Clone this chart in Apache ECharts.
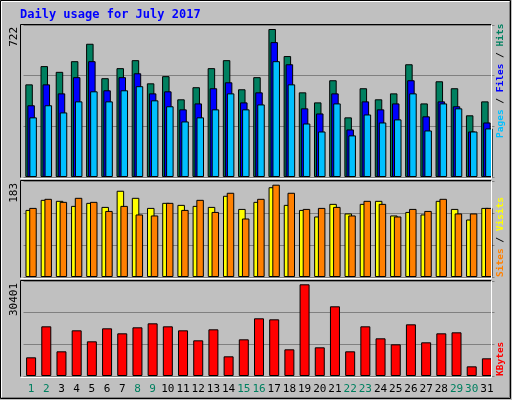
<!DOCTYPE html>
<html>
<head>
<meta charset="utf-8">
<script src="https://cdn.jsdelivr.net/npm/echarts@6/dist/echarts.min.js"></script>
<style>html,body{margin:0;padding:0;background:#c0c0c0;}#main{width:512px;height:400px;}</style>
</head>
<body>
<div id="main"></div>
<script>
var days = [];
for (var d = 1; d <= 31; d++) days.push(String(d));
var weekends = ['1', '2', '8', '9', '15', '16', '22', '23', '29', '30'];

var hits = [452, 541, 513, 565, 650, 482, 531, 570, 457, 492, 379, 438, 531, 570, 428, 487, 722, 590, 413, 364, 472, 291, 433, 379, 408, 550, 359, 467, 433, 301, 369];
var files = [350, 452, 408, 487, 565, 423, 487, 506, 408, 418, 330, 359, 433, 462, 364, 413, 658, 550, 335, 310, 408, 232, 369, 330, 359, 472, 296, 369, 345, 222, 266];
var pages = [291, 350, 315, 369, 418, 369, 423, 443, 374, 345, 271, 291, 330, 408, 330, 354, 565, 452, 261, 222, 359, 203, 305, 266, 281, 408, 227, 359, 335, 222, 237];
var sites = [133, 153, 151, 141, 147, 139, 171, 157, 137, 147, 143, 141, 139, 161, 135, 149, 178, 143, 133, 120, 145, 126, 145, 151, 122, 129, 124, 151, 135, 114, 137];
var visits = [137, 155, 149, 157, 149, 131, 141, 124, 122, 147, 133, 153, 129, 167, 116, 155, 183, 167, 135, 137, 139, 122, 151, 145, 120, 135, 131, 155, 126, 126, 137];
var kbytes = [6191, 16472, 8181, 15145, 11497, 15809, 14150, 16140, 17467, 16472, 15145, 11829, 15477, 6522, 12160, 19125, 18793, 8844, 30401, 9507, 23105, 8181, 16472, 12492, 10502, 17135, 11166, 14150, 14482, 3206, 5859];

var maxHits = Math.max.apply(null, hits);
var maxVisits = Math.max.apply(null, visits);
var maxKb = Math.max.apply(null, kbytes);

var font = 'DejaVu Sans Mono';
var panels = [
    {top: 25, height: 152},
    {top: 181, height: 96},
    {top: 281, height: 95}
];
var axisMax = [maxHits * 152 / 148, maxVisits * 96 / 92.3, maxKb * 95 / 91.7];

var grids = [], xAxes = [], yAxes = [];
panels.forEach(function (p, i) {
    grids.push({left: 23.5, width: 471, top: p.top, height: p.height, show: false});
    xAxes.push({
        type: 'category', gridIndex: i, data: days,
        axisLine: {show: false}, axisTick: {show: false},
        axisLabel: {
            show: i === 2, interval: 0, margin: 8, fontFamily: font, fontSize: 11,
            color: function (v) { return weekends.indexOf(v) >= 0 ? '#008060' : '#000000'; }
        }
    });
    yAxes.push({
        type: 'value', gridIndex: i, min: 0, max: axisMax[i], interval: axisMax[i] / 3,
        axisLine: {show: false}, axisTick: {show: false}, axisLabel: {show: false},
        splitLine: {lineStyle: {color: '#808080', width: 1}}
    });
});

function bar(name, data, color, idx, width, gap) {
    return {
        name: name, type: 'bar', data: data, xAxisIndex: idx, yAxisIndex: idx,
        barWidth: width, barGap: gap, animation: false,
        itemStyle: {color: color, borderColor: '#000', borderWidth: 1}
    };
}

var g = [];
// outer frame
g.push({type: 'rect', shape: {x: 0.5, y: 0.5, width: 510, height: 398}, style: {fill: null, stroke: '#000', lineWidth: 1}});
g.push({type: 'polyline', shape: {points: [[1.5, 397], [1.5, 1.5], [509, 1.5]]}, style: {stroke: '#fff', lineWidth: 1}});
g.push({type: 'polyline', shape: {points: [[2, 397.5], [509.5, 397.5], [509.5, 2]]}, style: {stroke: '#808080', lineWidth: 1}});
panels.forEach(function (p) {
    var x0 = 20.5, x1 = 491.5, y0 = p.top - 0.5, y1 = p.top + p.height + 0.5;
    g.push({type: 'polyline', z: 50, shape: {points: [[x0, y1], [x0, y0], [x1, y0]]}, style: {stroke: '#000', lineWidth: 1}});
    g.push({type: 'polyline', z: 50, shape: {points: [[x0, y1 + 1], [x1, y1 + 1], [x1, y0]]}, style: {stroke: '#fff', lineWidth: 1}});
});
g.push({type: 'text', x: 20, y: 9, style: {text: 'Daily usage for July 2017', fill: '#0000ff', font: 'bold 12px "' + font + '"'}});

var leftLabels = [[maxHits, 27], [maxVisits, 183], [maxKb, 283]];
leftLabels.forEach(function (l) {
    g.push({type: 'text', x: 9, y: l[1], rotation: Math.PI / 2,
        style: {text: String(l[0]), fill: '#000', font: '11px "' + font + '"', align: 'right', verticalAlign: 'top'}});
});

function sideText(y, parts) {
    var rich = {}, txt = '';
    parts.forEach(function (pt, i) {
        rich['p' + i] = {fill: pt[1], font: 'bold 9.5px "' + font + '"'};
        txt += '{p' + i + '|' + pt[0] + '}';
    });
    g.push({type: 'text', x: 496, y: y, rotation: Math.PI / 2,
        style: {text: txt, rich: rich, align: 'left', verticalAlign: 'top'}});
}
sideText(138, [['Pages', '#00c0ff'], [' / ', '#000'], ['Files', '#0000ff'], [' / ', '#000'], ['Hits', '#008060']]);
sideText(277, [['Sites', '#ff8000'], [' / ', '#000'], ['Visits', '#ffff00']]);
sideText(376, [['KBytes', '#ff0000']]);

var chart = echarts.init(document.getElementById('main'));
chart.setOption({
    backgroundColor: '#c0c0c0',
    animation: false,
    grid: grids, xAxis: xAxes, yAxis: yAxes,
    series: [
        bar('Hits', hits, '#008060', 0, 7.5, '-73%'),
        bar('Files', files, '#0000ff', 0, 7.5, '-73%'),
        bar('Pages', pages, '#00c0ff', 0, 7.5, '-73%'),
        bar('Sites', sites, '#ffff00', 1, 7.5, '-50%'),
        bar('Visits', visits, '#ff8000', 1, 7.5, '-50%'),
        bar('KBytes', kbytes, '#ff0000', 2, 10, '0%')
    ],
    graphic: g
});
</script>
</body>
</html>
